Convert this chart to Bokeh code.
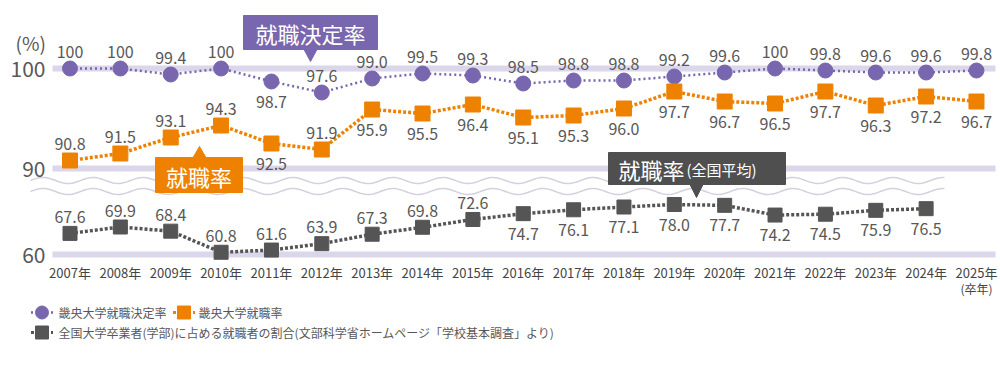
from bokeh.plotting import figure
from bokeh.models import Range1d, ColumnDataSource
from bokeh.core.properties import value
from bokeh.embed import file_html
from bokeh.resources import INLINE
import numpy as np

# ---------------- data ----------------
years = list(range(2007, 2026))
year_labels = [f"{y}年" for y in years]
decision_rate = [100, 100, 99.4, 100, 98.7, 97.6, 99.0, 99.5, 99.3, 98.5,
                 98.8, 98.8, 99.2, 99.6, 100, 99.8, 99.6, 99.6, 99.8]
employment_rate = [90.8, 91.5, 93.1, 94.3, 92.5, 91.9, 95.9, 95.5, 96.4, 95.1,
                   95.3, 96.0, 97.7, 96.7, 96.5, 97.7, 96.3, 97.2, 96.7]
national_years = list(range(2007, 2025))
national_rate = [67.6, 69.9, 68.4, 60.8, 61.6, 63.9, 67.3, 69.8, 72.6, 74.7,
                 76.1, 77.1, 78.0, 77.7, 74.2, 74.5, 75.9, 76.5]
y_ticks = [100, 90, 60]

decision_below = [2011]
employment_above = [2007, 2008, 2009, 2010, 2012]
national_above = list(range(2007, 2016))

# ---------------- styles ----------------
PURPLE = "#7866ae"
ORANGE = "#ee8200"
GREY = "#555555"
BOXGREY = "#4f4f4f"
BAND = "#dcd6eb"
WAVE = "#d4d0e0"
TXT = "#595757"
FONT = value("Noto Sans CJK JP")

W, H = 1000, 376

# pixel helpers (picture px -> data coordinates)
STEP = 50.36
def xd(px):
    return 2007 + (px - 69.5) / STEP
def yd(py):
    return 90 - (py - 168) / 10.0

# broken axis: 90-100 linear, lower block compressed
def disp(v):
    return v if v >= 85 else yd(254) + (v - 60) * 5.0 / 18.0

p = figure(width=W, height=H, x_range=Range1d(xd(0), xd(W)),
           y_range=Range1d(yd(H), yd(0)), x_axis_type=None, y_axis_type=None,
           toolbar_location=None, output_backend="svg", min_border=0,
           outline_line_color=None, background_fill_color="white")
p.grid.visible = False

# bands at tick values
for t in y_ticks:
    p.segment(x0=xd(52), x1=xd(995), y0=disp(t), y1=disp(t),
              line_width=6, line_color=BAND, line_cap="butt")

# break waves
wx_px = np.linspace(30, 944, 400)
for base in (180, 191):
    wy = yd(base) + 0.3 * np.sin(2 * np.pi * (wx_px - 30) / 50.0)
    p.line([xd(v) for v in wx_px], wy, line_color=WAVE, line_width=1.5)

# series lines
p.line(years, [disp(v) for v in decision_rate], line_color=PURPLE,
       line_width=2.5, line_dash="2 3")
p.line(years, [disp(v) for v in employment_rate], line_color=ORANGE,
       line_width=3.5, line_dash="3 2")
p.line(national_years, [disp(v) for v in national_rate], line_color=GREY,
       line_width=3.5, line_dash="3 2")

p.scatter(years, [disp(v) for v in decision_rate], marker="circle", size=15,
          fill_color=PURPLE, line_color=PURPLE)
p.scatter(years, [disp(v) for v in employment_rate], marker="square", size=15,
          fill_color=ORANGE, line_color=ORANGE)
p.scatter(national_years, [disp(v) for v in national_rate], marker="square", size=14,
          fill_color=GREY, line_color=GREY)

# value labels
def fmt(v):
    return "100" if v == 100 else f"{v:.1f}"

def add_labels(xs, vals, above_fn):
    ys = [disp(v) + (1.65 if above_fn(x) else -2.0) for x, v in zip(xs, vals)]
    src = ColumnDataSource(dict(x=xs, y=ys, t=[fmt(v) for v in vals]))
    p.text(x="x", y="y", text="t", source=src, text_align="center",
           text_baseline="middle", text_font=FONT, text_font_size="16px",
           text_color=TXT)

add_labels(years, decision_rate, lambda x: x not in decision_below)
add_labels(years, employment_rate, lambda x: x in employment_above)
add_labels(national_years, national_rate, lambda x: x in national_above)

# y tick labels
p.text(x=[xd(45)] * len(y_ticks), y=[disp(t) for t in y_ticks],
       text=[str(t) for t in y_ticks], text_align="right", text_baseline="middle",
       text_font=FONT, text_font_size="21px", text_color=TXT)
p.text(x=[xd(15)], y=[yd(42)], text=["(%)"], text_align="left",
       text_baseline="middle", text_font=FONT, text_font_size="19px", text_color=TXT)

# x tick labels
p.text(x=years, y=[yd(272)] * len(years), text=year_labels, text_align="center",
       text_baseline="middle", text_font=FONT, text_font_size="13px", text_color="#444444")
p.text(x=[years[-1]], y=[yd(288)], text=["(卒年)"], text_align="center",
       text_baseline="middle", text_font=FONT, text_font_size="12px", text_color="#444444")

# callout boxes
def callout(l, r, t, b, color, tip_x, tip_y, base_y):
    p.quad(left=xd(l), right=xd(r), top=yd(t), bottom=yd(b),
           fill_color=color, line_color=color)
    p.patch([xd(tip_x - 7), xd(tip_x + 7), xd(tip_x)],
            [yd(base_y), yd(base_y), yd(tip_y)], fill_color=color, line_color=color)

callout(243, 377, 15, 49, PURPLE, 310, 61, 48)
p.text(x=[xd(310)], y=[yd(32)], text=["就職決定率"], text_align="center",
       text_baseline="middle", text_font=FONT, text_font_size="22px", text_color="white")

callout(155, 242, 157, 192, ORANGE, 199, 146, 158)
p.text(x=[xd(198.5)], y=[yd(175)], text=["就職率"], text_align="center",
       text_baseline="middle", text_font=FONT, text_font_size="22px", text_color="white")

callout(608, 785, 152, 184, BOXGREY, 696, 197, 183)
p.text(x=[xd(618)], y=[yd(168.5)], text=["就職率"], text_align="left",
       text_baseline="middle", text_font=FONT, text_font_size="22px", text_color="white")
p.text(x=[xd(686)], y=[yd(169)], text=["(全国平均)"], text_align="left",
       text_baseline="middle", text_font=FONT, text_font_size="15px", text_color="white")

# legend
def legend_item(cx, cy, color, marker, size, dash, width, label, tx):
    p.segment(x0=xd(cx - 11), x1=xd(cx + 11), y0=yd(cy), y1=yd(cy),
              line_color=color, line_width=width, line_dash=dash)
    p.scatter([xd(cx)], [yd(cy)], marker=marker, size=size,
              fill_color=color, line_color=color)
    p.text(x=[xd(tx)], y=[yd(cy)], text=[label], text_align="left",
           text_baseline="middle", text_font=FONT, text_font_size="12px",
           text_color=TXT)

legend_item(41.5, 312, PURPLE, "circle", 13, "2 3", 2.5, "畿央大学就職決定率", 58)
legend_item(183.5, 312, ORANGE, "square", 13, "3 2", 3, "畿央大学就職率", 198)
legend_item(41.5, 332, GREY, "square", 13, "3 2", 3,
            "全国大学卒業者(学部)に占める就職者の割合(文部科学省ホームページ「学校基本調査」より)", 58)

open("out.html", "w").write(file_html(p, INLINE))
